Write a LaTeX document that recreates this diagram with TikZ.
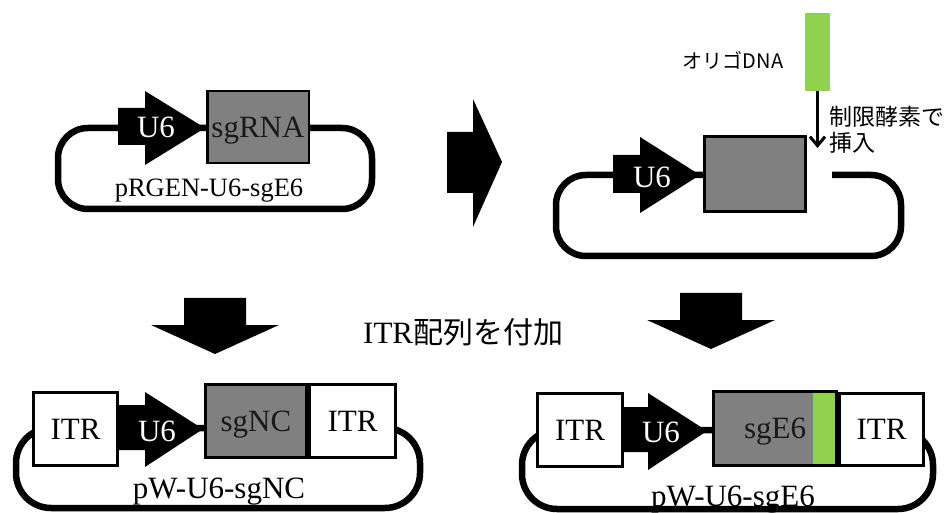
\documentclass[tikz,border=0pt]{standalone}
\usepackage{fontspec}
\setmainfont{Liberation Serif}
\newfontfamily\jpfont{Noto Sans CJK JP}
\usetikzlibrary{arrows.meta}
\definecolor{insertgreen}{HTML}{92D050}
\definecolor{genegray}{HTML}{808080}

\begin{document}
\begin{tikzpicture}[x=1pt,y=-1pt,
  backbone/.style={draw=black, line width=6.5pt, rounded corners=30pt},
  promoter/.style={fill=black},
  blockarrow/.style={fill=black},
  partbox/.style={draw=black, line width=2.8pt, inner sep=0pt, outer sep=0pt,
    font=\fontsize{31}{36}\selectfont, text height=20.5pt, text depth=0pt},
  genebox/.style={partbox, fill=genegray, text=black!90},
  itrbox/.style={partbox, fill=white},
  promlabel/.style={text=white, inner sep=0pt, font=\fontsize{31}{36}\selectfont,
    text height=20.5pt, text depth=0pt},
  plasmidname/.style={inner sep=0pt, font=\fontsize{31}{36}\selectfont,
    text height=20.5pt, text depth=0pt},
  jplabel/.style={inner sep=0pt, font=\jpfont\fontsize{20}{24}\selectfont},
  insertarrow/.style={line width=3.5pt, -{Straight Barb[length=9pt,width=15pt,line width=3pt]}},
]
\useasboundingbox (0,0) rectangle (951,513);

% ---------- pRGEN-U6-sgE6 ----------
\draw[backbone] (58,128) rectangle (372,209);
\fill[promoter] (118,108) -- (145,108) -- (145,91) -- (205,128) -- (145,165) -- (145,145) -- (118,145) -- cycle;
\node[promlabel] (u6a) at (156,127.5) {U6};
\node[genebox, minimum width=101.5pt, minimum height=72pt, draw=black, line width=2.5pt] (sgrna) at (258,127) {sgRNA};
\node[plasmidname, font=\fontsize{26.5}{30}\selectfont, text height=17.5pt] (prgen) at (209,188) {pRGEN-U6-sgE6};

% ---------- opened vector with oligo insertion ----------
\draw[backbone] (832,175) -- (901,175) -- (901,256) -- (556,256) -- (556,175) -- (703,175);
\fill[promoter] (613,155) -- (640,155) -- (640,137) -- (700,175) -- (640,213) -- (640,193) -- (613,193) -- cycle;
\node[promlabel] (u6b) at (652,177) {U6};
\node[genebox, minimum width=101pt, minimum height=75pt] (emptybox) at (755,174) {};
\node[fill=insertgreen, inner sep=0pt, minimum width=25pt, minimum height=78pt] (oligo) at (817.5,52) {};
\coordinate (insertpt) at (817.5,148);
\draw[insertarrow] (oligo.south) -- (insertpt);
\node[jplabel] (oligolabel) at (733,60) {オリゴDNA};
\node[jplabel, font=\jpfont\fontsize{23}{26}\selectfont, align=left, anchor=west] (enzyme) at (829,130) {制限酵素で\\挿入};

% ---------- block arrows ----------
\fill[blockarrow] (447,132) -- (473,132) -- (473,99) -- (502,162) -- (473,227) -- (473,193) -- (447,193) -- cycle;
\fill[blockarrow] (184,298) -- (246,298) -- (246,325) -- (279,325) -- (215,354) -- (151,325) -- (184,325) -- cycle;
\fill[blockarrow] (680,293) -- (742,293) -- (742,320) -- (775,320) -- (711,349) -- (647,320) -- (680,320) -- cycle;
\node[inner sep=0pt, anchor=base west] (itrstep) at (363,343)
  {\fontsize{31}{36}\selectfont ITR\jpfont\fontsize{30}{36}\selectfont 配列を付加};

% ---------- pW-U6-sgNC ----------
\draw[backbone, rounded corners=35pt] (16,428) rectangle (420,508);
\node[itrbox, minimum width=84.5pt, minimum height=73.5pt] (itr1) at (75.5,429) {ITR};
\fill[promoter] (119,405) -- (145,405) -- (145,392) -- (203,429) -- (145,467) -- (145,450) -- (119,450) -- cycle;
\node[promlabel] (u6c) at (157,431) {U6};
\node[genebox, minimum width=101.5pt, minimum height=73.5pt] (sgnc) at (256,421) {sgNC};
\node[itrbox, minimum width=86.5pt, minimum height=73.5pt] (itr2) at (352.5,421) {ITR};
\node[plasmidname] (pwnc) at (219,488) {pW-U6-sgNC};

% ---------- pW-U6-sgE6 ----------
\draw[backbone, rounded corners=35pt] (522,430) rectangle (933,509);
\node[itrbox, minimum width=85.5pt, minimum height=73.5pt] (itr3) at (580,430) {ITR};
\fill[promoter] (624,407) -- (648,407) -- (648,393) -- (707,431) -- (648,470) -- (648,452) -- (624,452) -- cycle;
\node[promlabel] (u6d) at (661,432) {U6};
\node[genebox, minimum width=123.5pt, minimum height=74.5pt] (sge6) at (775,428.5) {sgE6};
\fill[insertgreen] ([xshift=-24pt]sge6.north east) rectangle (sge6.south east);
\draw[line width=2.8pt] (sge6.north west) rectangle (sge6.south east);
\node[itrbox, minimum width=84.5pt, minimum height=72.5pt] (itr4) at (881.5,429.5) {ITR};
\node[plasmidname] (pwe6) at (733,496) {pW-U6-sgE6};
\end{tikzpicture}
\end{document}
